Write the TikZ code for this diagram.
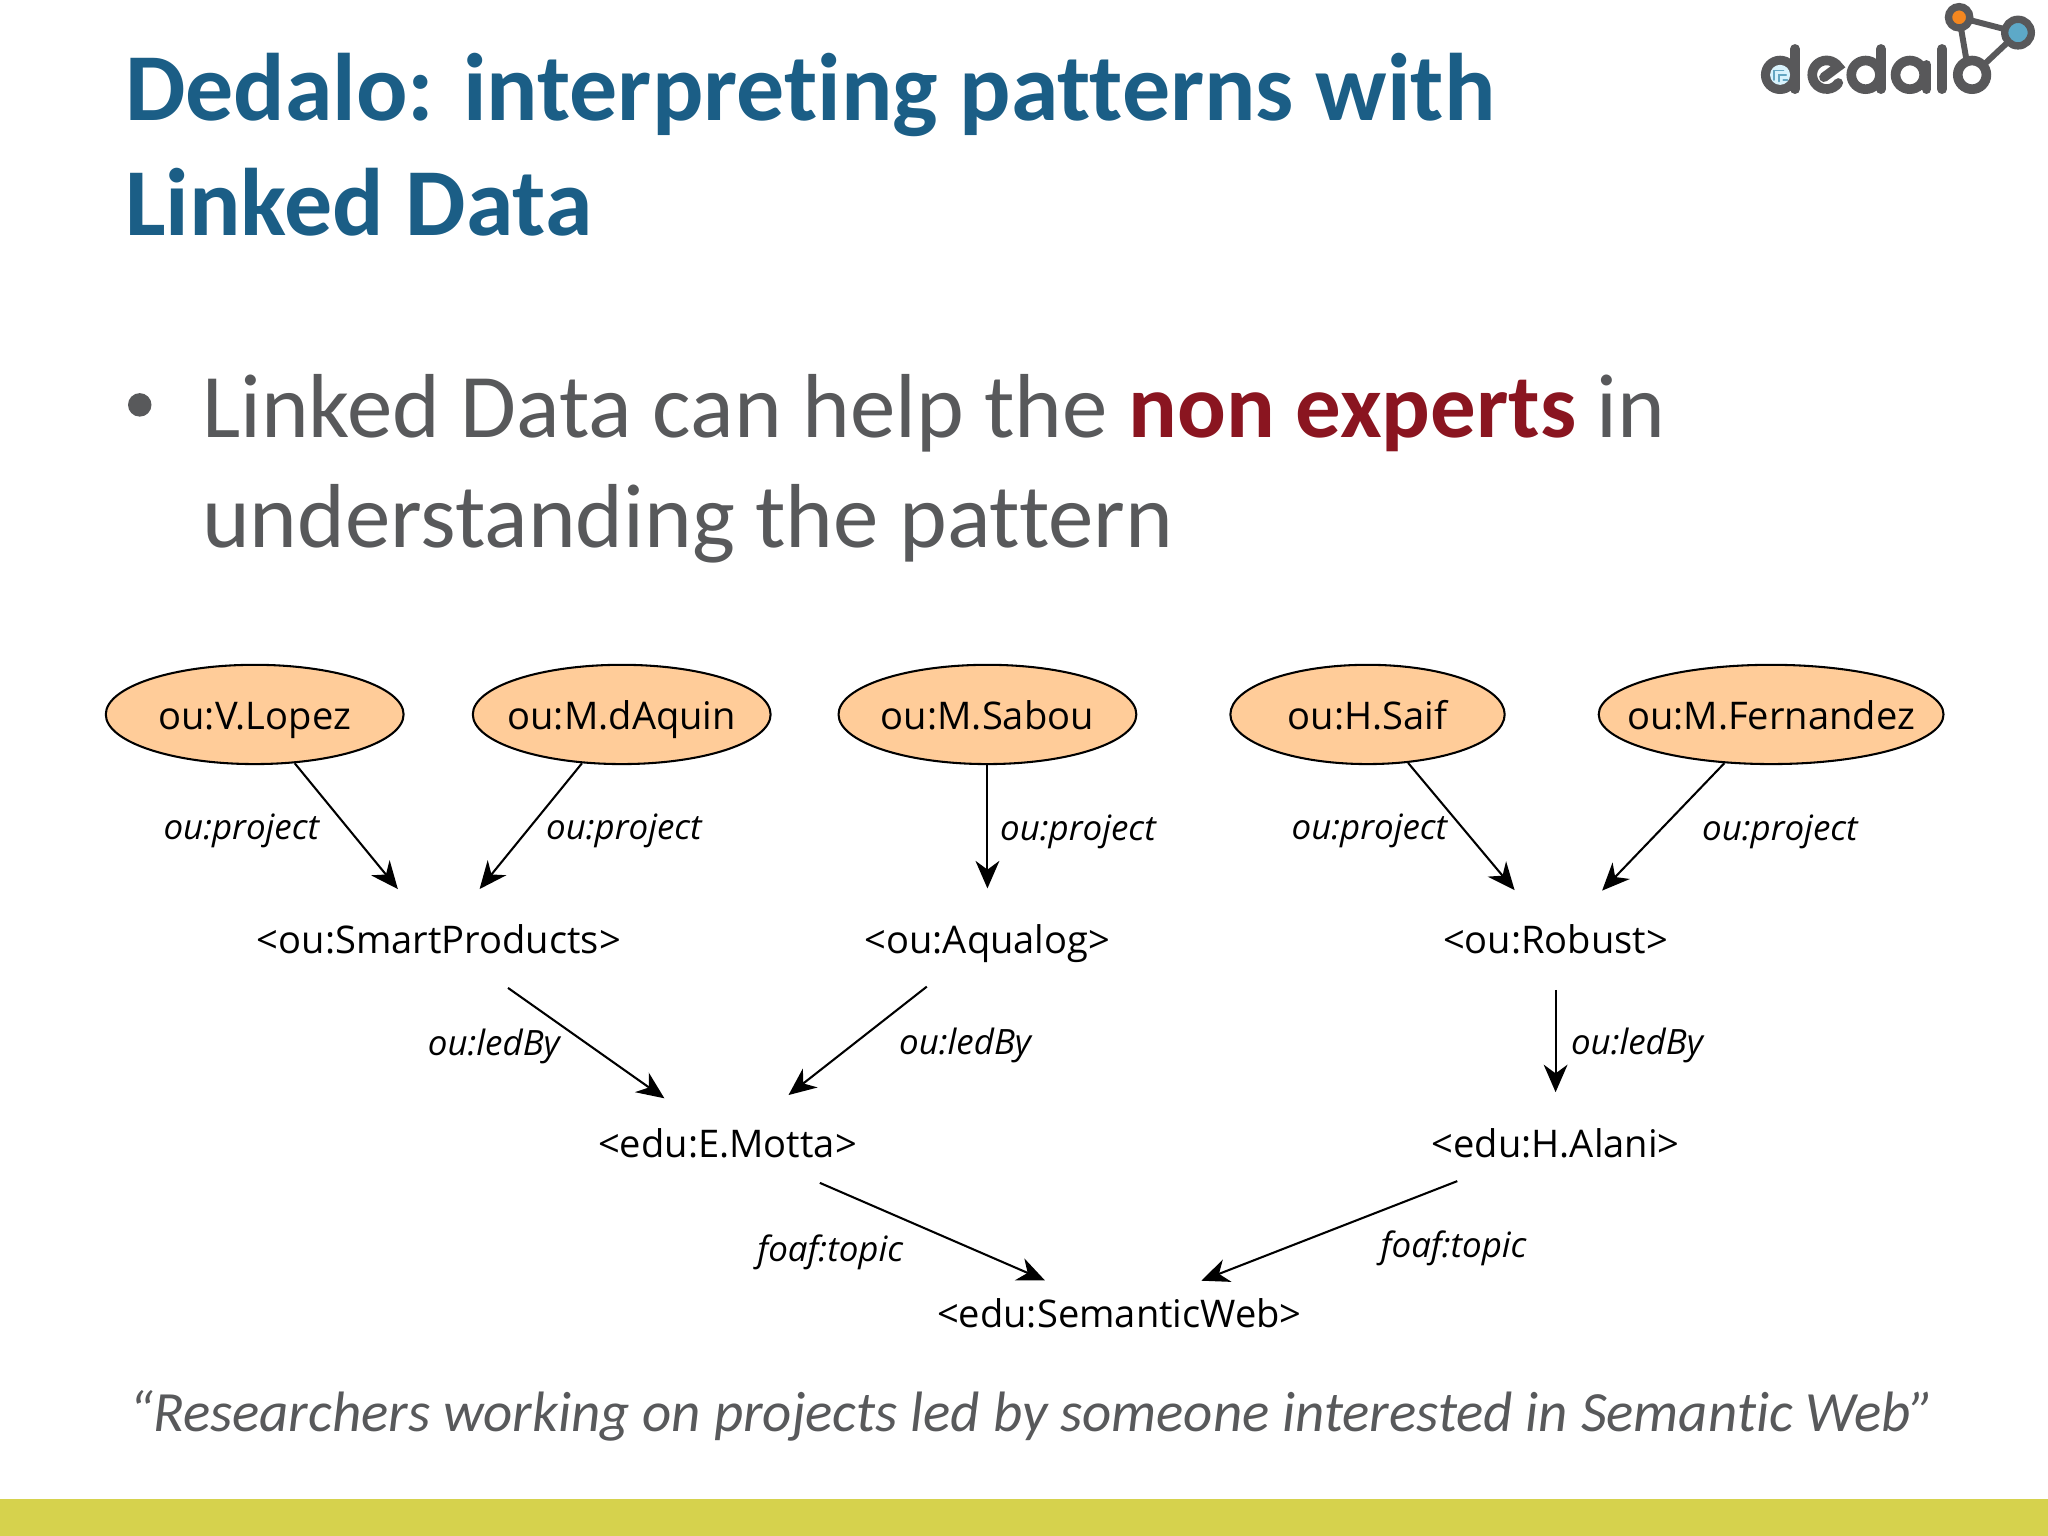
\documentclass[tikz,border=0pt]{standalone}
\usepackage{fontspec}
\setmainfont{Carlito}[Ligatures=NoCommon]
\newfontfamily\graphfont{Open Sans}
\usetikzlibrary{shapes.geometric, positioning, arrows.meta}
\definecolor{titleblue}{HTML}{1B5E86}
\definecolor{bodygrey}{HTML}{58595B}
\definecolor{darkred}{HTML}{8A1520}
\definecolor{barcolor}{HTML}{D6D24D}
\definecolor{personfill}{HTML}{FFCC99}
\definecolor{logogrey}{HTML}{58585A}
\definecolor{logoblue}{HTML}{5DA9C8}
\definecolor{logoorange}{HTML}{F5871F}

\begin{document}
\begin{tikzpicture}[->,>={Stealth[length=6pt,width=5.2pt,inset=1.9pt]},line width=0.45pt,on grid]
	
	\tikzstyle{person}=[ellipse,draw=black,fill=personfill,font=\graphfont\fontsize{8.3}{10}\selectfont,inner xsep=-0.5cm,inner ysep=0pt,text height=8pt,text depth=1.6pt,minimum width=2.28cm,minimum height=0.76cm]
	\tikzstyle{thing}=[ellipse,font=\graphfont\fontsize{8.3}{10}\selectfont,inner sep=0pt,text height=8pt,text depth=1.6pt,minimum height=0.76cm]
	\tikzstyle{prop}=[font=\graphfont\itshape\fontsize{7.6}{9}\selectfont,inner sep=0pt,text height=7.6pt,text depth=1.8pt]
	\tikzstyle{headline}=[anchor=base west,inner sep=0pt,text=titleblue,font=\bfseries\fontsize{20.9}{24}\selectfont]
	\tikzstyle{bodyline}=[anchor=base west,inner sep=0pt,text=bodygrey,font=\fontsize{19.8}{24}\selectfont]
	
	\useasboundingbox (0,0) rectangle (15.68,-11.76);
	\fill[barcolor] (0,-11.48) rectangle (15.68,-11.76);
	
	\node[headline] (T1) at (0.95,-0.92) {Dedalo: interpreting patterns with};
	\node[headline] (T2) at (0.95,-1.80) {Linked Data};
	\fill[bodygrey] (1.07,-3.10) circle (0.09);
	\node[bodyline] (B1) at (1.54,-3.35) {Linked Data can help the \textcolor{darkred}{\bfseries non experts} in};
	\node[bodyline] (B2) at (1.54,-4.19) {understanding the pattern};
	
	\node[person] (N0) at (1.95,-5.47) {ou:V.Lopez};
	\node[person] (N1) [right=2.81 of N0] {ou:M.dAquin};
	\node[person] (N2) [right=2.80 of N1] {ou:M.Sabou};
	\node[person,minimum width=2.10cm] (N3) [right=2.91 of N2] {ou:H.Saif};
	\node[person,minimum width=2.64cm] (N4) [right=3.09 of N3] {ou:M.Fernandez};
	
	\node[thing] (P0) at (3.36,-7.19) {<ou:SmartProducts>};
	\node[thing] (P1) [below=1.72 of N2] {<ou:Aqualog>};
	\node[thing] (P2) at (11.91,-7.19) {<ou:Robust>};
	\node[thing] (L0) at (5.57,-8.75) {<edu:E.Motta>};
	\node[thing] (L1) [below=1.56 of P2] {<edu:H.Alani>};
	\node[thing,minimum height=0.50cm] (W) at (8.57,-10.05) {<edu:SemanticWeb>};
	
	\path (N0) edge node [prop,left=0.20] {ou:project} (P0)
	(N1) edge node [prop,right=0.11] {ou:project} (P0)
	(N2) edge node [prop,right=0.09] {ou:project} (P1)
	(N3) edge node [prop,left=0.10] {ou:project} (P2)
	(N4) edge node [prop,right=0.29] {ou:project} (P2)
	(P0) edge [shorten >=-1pt] node [prop,left=0.18] {ou:ledBy} (L0)
	(P1) edge node [prop,right=0.31] {ou:ledBy} (L0)
	(P2) edge node [prop,right=0.11] {ou:ledBy} (L1)
	(L0) edge [shorten <=-1.5pt] node [prop,left=0.24,yshift=-0.12cm] {foaf:topic} (W)
	(L1) edge [shorten <=-1.5pt] node [prop,right=0.41,yshift=-0.09cm] {foaf:topic} (W);
	
	\node[anchor=center,inner sep=0pt,text=bodygrey,font=\itshape\fontsize{12.4}{16}\selectfont] (Q) at (7.90,-10.84) {“Researchers working on projects led by someone interested in Semantic Web”};
	
	% logo
	\begin{scope}[-,shift={(13.017,0)},x=0.002552cm,y=-0.002552cm,draw=logogrey,line cap=round,line width=2.1pt]
		\draw (240,225) circle (43);
		\draw (285,147) -- (285,268);
		\fill[cyan!15!white] (240,225) circle (30);
		\draw[cyan!50!gray,line width=0.4pt] (222,240) -- (222,212) -- (250,212) (236,245) -- (236,226) -- (258,226) (250,240) -- (262,240);
		\draw (372,232) -- (415,200) arc (-35:-325:43 and 43);
		\draw (497,225) circle (43);
		\draw (543,147) -- (543,268);
		\draw (630,225) circle (43);
		\draw (680,195) -- (680,268);
		\draw (727,147) -- (727,268);
		\draw (817,225) circle (43);
		\draw[line width=1.3pt] (778,52) -- (955,98) (778,52) -- (800,180) (955,98) -- (855,192);
		\draw[fill=logoorange,line width=1.6pt] (778,52) circle (32);
		\draw[fill=logoblue,line width=1.6pt] (955,98) circle (40);
	\end{scope}
	
\end{tikzpicture}
\end{document}
